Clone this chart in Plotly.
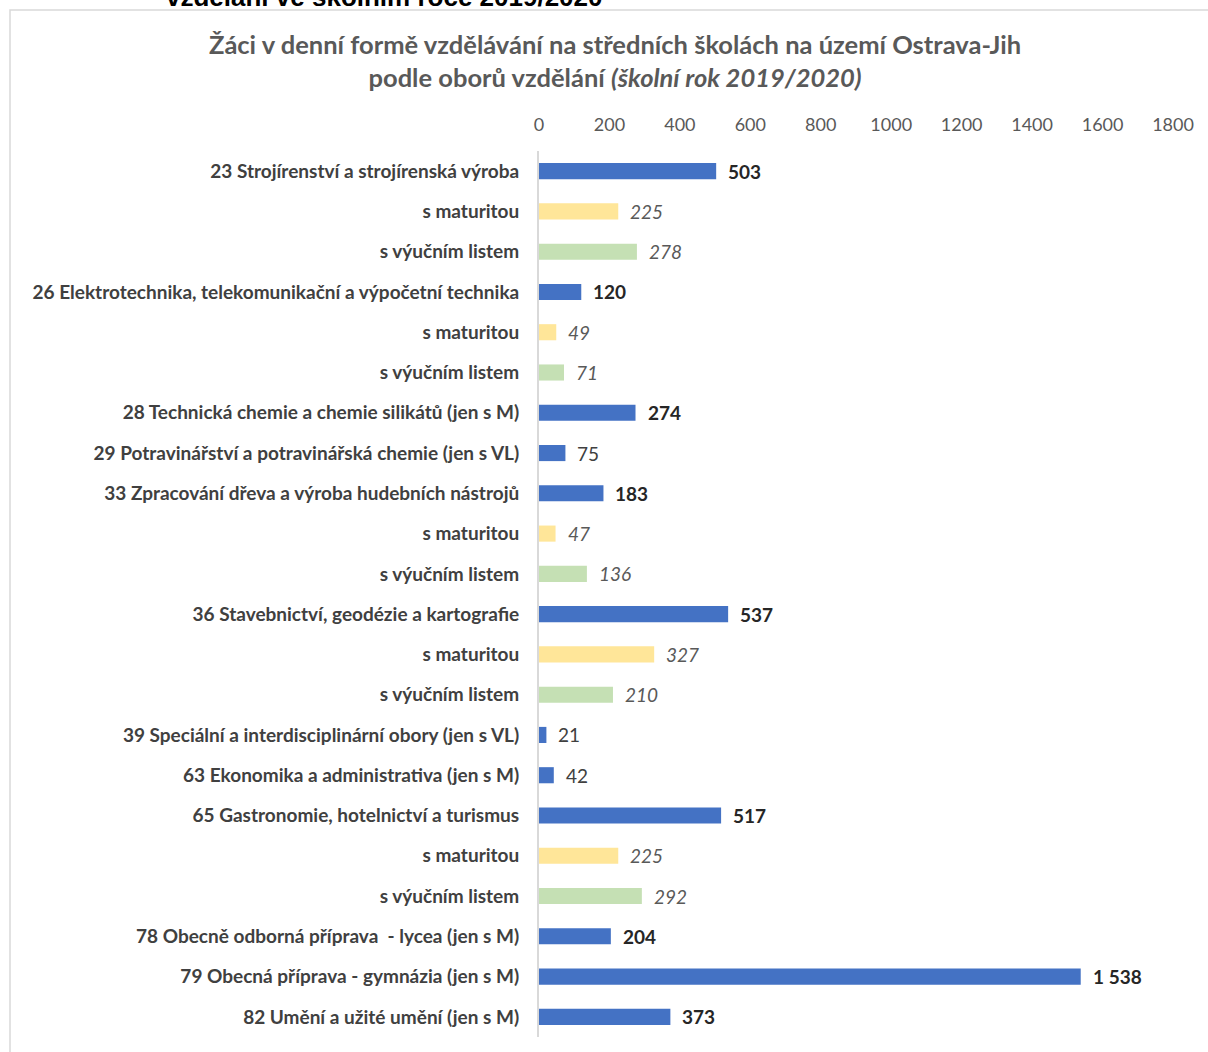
import plotly.graph_objects as go

categories = [
    "23 Strojírenství a strojírenská výroba",
    "s maturitou",
    "s výučním listem",
    "26 Elektrotechnika, telekomunikační a výpočetní technika",
    "s maturitou",
    "s výučním listem",
    "28 Technická chemie a chemie silikátů (jen s M)",
    "29 Potravinářství a potravinářská chemie (jen s VL)",
    "33 Zpracování dřeva a výroba hudebních nástrojů",
    "s maturitou",
    "s výučním listem",
    "36 Stavebnictví, geodézie a kartografie",
    "s maturitou",
    "s výučním listem",
    "39 Speciální a interdisciplinární obory (jen s VL)",
    "63 Ekonomika a administrativa (jen s M)",
    "65 Gastronomie, hotelnictví a turismus",
    "s maturitou",
    "s výučním listem",
    "78 Obecně odborná příprava  - lycea (jen s M)",
    "79 Obecná příprava - gymnázia (jen s M)",
    "82 Umění a užité umění (jen s M)",
]
values = [503, 225, 278, 120, 49, 71, 274, 75, 183, 47, 136, 537, 327, 210, 21, 42, 517, 225, 292, 204, 1538, 373]
kinds = ["T", "M", "V", "T", "M", "V", "T", "T", "T", "M", "V", "T", "M", "V", "T", "T", "T", "M", "V", "T", "T", "T"]
tick_vals = [0, 200, 400, 600, 800, 1000, 1200, 1400, 1600, 1800]

colors = {"T": "#4472C4", "M": "#FFE699", "V": "#C5E0B4"}
names = {"T": "celkem", "M": "s maturitou", "V": "s výučním listem"}

idx = list(range(len(categories)))
FONT = "Lato"

fig = go.Figure()
for k in ["T", "M", "V"]:
    ys = [i for i in idx if kinds[i] == k]
    xs = [values[i] for i in ys]
    fig.add_trace(go.Bar(
        x=xs, y=ys, orientation="h", name=names[k],
        marker=dict(color=colors[k], line=dict(width=0)),
        width=0.4, showlegend=False, hoverinfo="x",
    ))

for i in idx:
    v = values[i]
    txt = f"{v:,}".replace(",", " ")
    if kinds[i] == "T" and v >= 100:
        font = dict(family=FONT, size=19, color="#262626", weight="bold")
    elif kinds[i] == "T":
        font = dict(family=FONT, size=19, color="#404040")
    else:
        font = dict(family=FONT, size=19, color="#595959", style="italic")
    fig.add_annotation(x=v, y=i, text=txt, showarrow=False, xanchor="left",
                       xshift=10, font=font, xref="x", yref="y")

# Figure border (decorative)
fig.add_shape(type="rect", xref="paper", yref="paper",
              x0=(10 - 539) / 634, x1=(1215 - 539) / 634,
              y0=(1037 - 1060) / 886, y1=(1037 - 10) / 886,
              line=dict(color="#D9D9D9", width=1.5), fillcolor="rgba(0,0,0,0)", layer="below")

# Cut-off heading of the slide above the chart
fig.add_annotation(xref="paper", yref="paper", x=(384 - 539) / 634, y=(1037 + 3) / 886,
                   text="vzdělání ve školním roce 2019/2020", showarrow=False,
                   xanchor="center", yanchor="middle",
                   font=dict(family="Liberation Sans", size=26, color="#000000", weight="bold"))

fig.add_annotation(xref="paper", yref="paper", x=(615 - 539) / 634, y=(1037 - 61) / 886,
                   text="Žáci v denní formě vzdělávání na středních školách na území Ostrava-Jih<br>"
                        "podle oborů vzdělání <i>(školní rok 2019/2020)</i>",
                   showarrow=False, xanchor="center", yanchor="middle",
                   font=dict(family=FONT, size=25.5, color="#595959", weight="bold"))

fig.update_layout(
    width=1208, height=1052,
    margin=dict(l=539, r=35, t=151, b=15),
    paper_bgcolor="white", plot_bgcolor="white",
    bargap=0.6,
    xaxis=dict(side="top", range=[0, 1800], tickvals=tick_vals, showgrid=False,
               zeroline=False, showline=False, ticks="", ticklabelstandoff=15,
               tickfont=dict(family=FONT, size=18, color="#595959"), fixedrange=True),
    yaxis=dict(tickvals=idx, ticktext=categories, autorange="reversed",
               range=[len(categories) - 0.5, -0.5],
               showgrid=False, zeroline=False, showline=True, linecolor="#D9D9D9", linewidth=2,
               ticks="", ticklabelstandoff=14,
               tickfont=dict(family=FONT, size=19, color="#404040", weight="bold")),
)

fig.write_html("out.html", config={"displayModeBar": False},
               post_script="document.body.style.margin='0';document.documentElement.style.overflow='hidden';")
